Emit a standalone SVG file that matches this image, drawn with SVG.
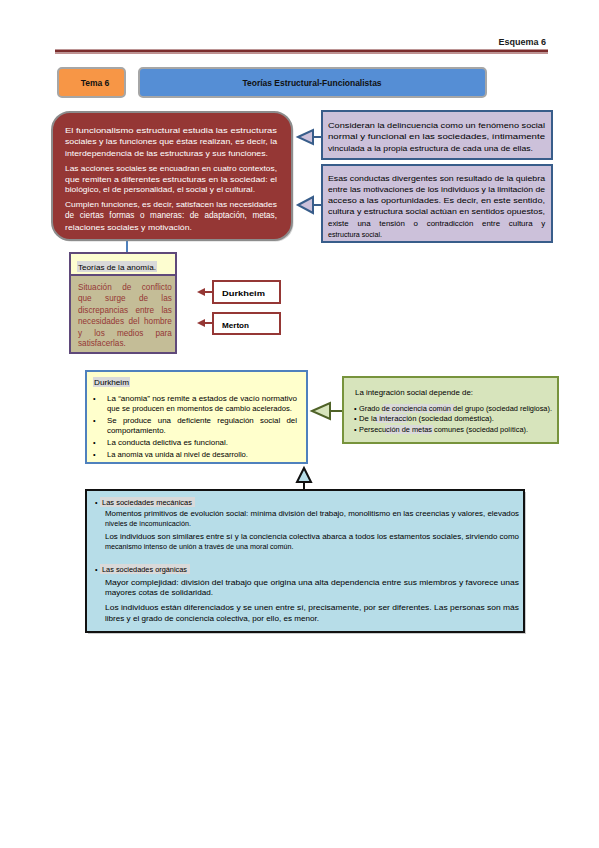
<svg xmlns="http://www.w3.org/2000/svg" width="599" height="848" viewBox="0 0 599 848">
<style>
text{font-family:"Liberation Sans",Arial,sans-serif;}
.w{fill:#ffffff;font-size:7.8px;}
.k{fill:#000000;font-size:7.4px;}
.s{fill:#000000;font-size:7.2px;}
.r{fill:#953735;font-size:8.2px;}
.b{font-weight:bold;}
.hl{fill:#d9d9d9;}
</style>
<rect x="0" y="0" width="599" height="848" fill="#ffffff"/>
<g id="header">
<text x="546" y="45" text-anchor="end" class="b" font-size="9" fill="#1a1a1a">Esquema 6</text>
<rect x="55" y="49.5" width="493" height="3" fill="#7b2c2c"/>
<line x1="55" y1="53.5" x2="548" y2="53.5" stroke="#c09090" stroke-width="1"/>
</g>
<g id="tema">
<rect x="58" y="68" width="67" height="29" rx="4" fill="#f79646" stroke="#a6a6a6" stroke-width="2"/>
<text x="95" y="85.5" text-anchor="middle" class="b" font-size="8.5" fill="#111">Tema 6</text>
</g>
<g id="titulo">
<rect x="139" y="68" width="347" height="29" rx="4" fill="#558ed5" stroke="#a6a6a6" stroke-width="2"/>
<text x="312" y="85.5" text-anchor="middle" class="b" font-size="8.5" fill="#111">Teorías Estructural-Funcionalistas</text>
</g>
<g id="connectors">
<line x1="127" y1="241" x2="127" y2="254" stroke="#4f81bd" stroke-width="2"/>
<line x1="313" y1="137" x2="322" y2="137" stroke="#385d8a" stroke-width="2"/>
<polygon points="298,137 313,130 313,144" fill="#ccc1da" stroke="#385d8a" stroke-width="2"/>
<line x1="313" y1="205" x2="322" y2="205" stroke="#385d8a" stroke-width="2"/>
<polygon points="298,205 313,197 313,213" fill="#ccc1da" stroke="#385d8a" stroke-width="2"/>
<line x1="203" y1="292" x2="213" y2="292" stroke="#953735" stroke-width="2"/>
<polygon points="197,292 205,288 205,296" fill="#953735"/>
<line x1="203" y1="323" x2="213" y2="323" stroke="#953735" stroke-width="2"/>
<polygon points="197,323 205,319 205,327" fill="#953735"/>
<line x1="330" y1="411" x2="343" y2="411" stroke="#4f6228" stroke-width="2"/>
<polygon points="312,411 330,403 330,419" fill="#d7e4bc" stroke="#4f6228" stroke-width="2"/>
<line x1="304" y1="482" x2="304" y2="491" stroke="#111" stroke-width="2"/>
<polygon points="304,468 297,482 311,482" fill="#b7dde8" stroke="#111" stroke-width="2"/>
</g>
<g id="funcionalismo">
<rect x="53.5" y="113.5" width="240" height="128" rx="18" fill="#7f7f7f" opacity="0.35"/>
<rect x="52" y="112" width="240" height="128" rx="18" fill="#953735" stroke="#8c8c8c" stroke-width="2"/>
<text class="w" x="65" y="132.5" textLength="212" lengthAdjust="spacingAndGlyphs">El funcionalismo estructural estudia las estructuras</text>
<text class="w" x="65" y="144" textLength="212" lengthAdjust="spacingAndGlyphs">sociales y las funciones que éstas realizan, es decir, la</text>
<text class="w" x="65" y="155.5" textLength="203" lengthAdjust="spacingAndGlyphs">interdependencia de las estructuras y sus funciones.</text>
<text class="w" x="65" y="170.5" textLength="212" lengthAdjust="spacingAndGlyphs">Las acciones sociales se encuadran en cuatro contextos,</text>
<text class="w" x="65" y="181.5" textLength="212" lengthAdjust="spacingAndGlyphs">que remiten a diferentes estructuras en la sociedad: el</text>
<text class="w" x="65" y="192" textLength="190" lengthAdjust="spacingAndGlyphs">biológico, el de personalidad, el social y el cultural.</text>
<text class="w" x="65" y="206.5" textLength="212" lengthAdjust="spacingAndGlyphs">Cumplen funciones, es decir, satisfacen las necesidades</text>
<text class="w" x="65" y="217.5" style="font-size:8.2px;word-spacing:3.3px">de ciertas formas o maneras: de adaptación, metas,</text>
<text class="w" x="65" y="229.5" textLength="127" lengthAdjust="spacingAndGlyphs">relaciones sociales y motivación.</text>
</g>
<g id="consideran">
<rect x="322" y="111" width="230" height="48" fill="#ccc1da" stroke="#385d8a" stroke-width="2"/>
<text class="k" x="328" y="127.5" textLength="217" lengthAdjust="spacingAndGlyphs">Consideran la delincuencia como un fenómeno social</text>
<text class="k" x="328" y="139" textLength="217" lengthAdjust="spacingAndGlyphs">normal y funcional en las sociedades, íntimamente</text>
<text class="k" x="328" y="150.5" textLength="205" lengthAdjust="spacingAndGlyphs">vinculada a la propia estructura de cada una de ellas.</text>
</g>
<g id="conductas">
<rect x="322" y="165" width="230" height="77" fill="#ccc1da" stroke="#385d8a" stroke-width="2"/>
<text class="k" x="328" y="180.5" textLength="217" lengthAdjust="spacingAndGlyphs">Esas conductas divergentes son resultado de la quiebra</text>
<text class="k" x="328" y="191.8" textLength="217" lengthAdjust="spacingAndGlyphs">entre las motivaciones de los individuos y la limitación de</text>
<text class="k" x="328" y="203.1" textLength="217" lengthAdjust="spacingAndGlyphs">acceso a las oportunidades. Es decir, en este sentido,</text>
<text class="k" x="328" y="214.4" textLength="217" lengthAdjust="spacingAndGlyphs">cultura y estructura social actúan en sentidos opuestos,</text>
<text class="k" x="328" y="225.7" style="font-size:7.9px;word-spacing:6.6px">existe una tensión o contradicción entre cultura y</text>
<text class="k" x="328" y="237" textLength="54" lengthAdjust="spacingAndGlyphs">estructura social.</text>
</g>
<g id="anomia">
<rect x="70" y="253" width="106" height="22" fill="#fdfdd0"/>
<rect x="70" y="275" width="106" height="78" fill="#c4bd97"/>
<rect x="70" y="253" width="106" height="100" fill="none" stroke="#5f497a" stroke-width="2"/>
<line x1="70" y1="275" x2="176" y2="275" stroke="#5f497a" stroke-width="2"/>
<rect x="77" y="261" width="80" height="11" class="hl"/>
<text class="k" x="78" y="269.5" textLength="78" lengthAdjust="spacingAndGlyphs">Teorías de la anomía.</text>
<text class="r" x="78" y="289.5" style="word-spacing:8.2px">Situación de conflicto</text>
<text class="r" x="78" y="301" style="word-spacing:11.1px">que surge de las</text>
<text class="r" x="78" y="312.5" style="word-spacing:5.1px">discrepancias entre las</text>
<text class="r" x="78" y="324" style="word-spacing:2.3px">necesidades del hombre</text>
<text class="r" x="78" y="335.5" style="word-spacing:9.9px">y los medios para</text>
<text class="r" x="78" y="346">satisfacerlas.</text>
</g>
<g id="durkheim-label">
<rect x="213" y="281" width="67" height="22" fill="#ffffff" stroke="#953735" stroke-width="2"/>
<text class="k b" x="222" y="295.5" textLength="43" lengthAdjust="spacingAndGlyphs">Durkheim</text>
</g>
<g id="merton-label">
<rect x="213" y="313" width="67" height="21" fill="#ffffff" stroke="#953735" stroke-width="2"/>
<text class="k b" x="222" y="327.5" textLength="27" lengthAdjust="spacingAndGlyphs">Merton</text>
</g>
<g id="durkheim">
<rect x="86" y="371" width="221" height="92" fill="#ffffcc" stroke="#4f81bd" stroke-width="2"/>
<rect x="93" y="377" width="37" height="10" class="hl"/>
<text class="k" x="94" y="384.5" textLength="35" lengthAdjust="spacingAndGlyphs">Durkheim</text>
<text class="k" x="93" y="400.5">•</text>
<text class="k" x="107" y="400.5" textLength="190" lengthAdjust="spacingAndGlyphs">La “anomia” nos remite a estados de vacío normativo</text>
<text class="k" x="107" y="410.5" textLength="185" lengthAdjust="spacingAndGlyphs">que se producen en momentos de cambio acelerados.</text>
<text class="k" x="93" y="422.5">•</text>
<text class="k" x="107" y="422.5" style="font-size:7.9px;word-spacing:4.1px">Se produce una deficiente regulación social del</text>
<text class="k" x="107" y="432.5" style="font-size:7.9px">comportamiento.</text>
<text class="k" x="93" y="444.5">•</text>
<text class="k" x="107" y="444.5" textLength="121" lengthAdjust="spacingAndGlyphs">La conducta delictiva es funcional.</text>
<text class="k" x="93" y="456.5">•</text>
<text class="k" x="107" y="456.5" textLength="141" lengthAdjust="spacingAndGlyphs">La anomia va unida al nivel de desarrollo.</text>
</g>
<g id="integracion">
<rect x="343" y="377" width="215" height="66" fill="#d7e4bc" stroke="#77933c" stroke-width="2"/>
<rect x="383" y="404" width="71" height="9" class="hl"/>
<rect x="376" y="414" width="31" height="9" class="hl"/>
<rect x="385" y="425" width="48" height="9" class="hl"/>
<text class="k" x="355" y="394.5" textLength="118" lengthAdjust="spacingAndGlyphs">La integración social depende de:</text>
<text class="k" x="354" y="410.5">•</text>
<text class="k" x="359" y="410.5" textLength="193" lengthAdjust="spacingAndGlyphs">Grado de conciencia común del grupo (sociedad religiosa).</text>
<text class="k" x="354" y="420.5">•</text>
<text class="k" x="359" y="420.5" textLength="135" lengthAdjust="spacingAndGlyphs">De la interacción (sociedad doméstica).</text>
<text class="k" x="354" y="431.5">•</text>
<text class="k" x="359" y="431.5" textLength="169" lengthAdjust="spacingAndGlyphs">Persecución de metas comunes (sociedad política).</text>
</g>
<g id="sociedades">
<rect x="88" y="492" width="438" height="142" fill="#7f7f7f" opacity="0.4"/>
<rect x="86" y="490" width="438" height="142" fill="#b7dde8" stroke="#111" stroke-width="2"/>
<rect x="100" y="497" width="95" height="10" class="hl"/>
<text class="s" x="95" y="504.5">•</text>
<text class="s" x="102" y="504.5" textLength="90" lengthAdjust="spacingAndGlyphs">Las sociedades mecánicas</text>
<text class="s" x="105" y="515.5" textLength="414" lengthAdjust="spacingAndGlyphs">Momentos primitivos de evolución social: mínima división del trabajo, monolitismo en las creencias y valores, elevados</text>
<text class="s" x="105" y="525.5">niveles de incomunicación.</text>
<text class="s" x="105" y="538.5" textLength="414" lengthAdjust="spacingAndGlyphs">Los individuos son similares entre sí y la conciencia colectiva abarca a todos los estamentos sociales, sirviendo como</text>
<text class="s" x="105" y="548.5">mecanismo intenso de unión a través de una moral común.</text>
<rect x="100" y="564" width="90" height="10" class="hl"/>
<text class="s" x="95" y="571.5">•</text>
<text class="s" x="102" y="571.5" textLength="85" lengthAdjust="spacingAndGlyphs">Las sociedades orgánicas</text>
<text class="s" x="105" y="584.5" textLength="414" lengthAdjust="spacingAndGlyphs">Mayor complejidad: división del trabajo que origina una alta dependencia entre sus miembros y favorece unas</text>
<text class="s" x="105" y="594.5" textLength="108" lengthAdjust="spacingAndGlyphs">mayores cotas de solidaridad.</text>
<text class="s" x="105" y="609.5" textLength="414" lengthAdjust="spacingAndGlyphs">Los individuos están diferenciados y se unen entre sí, precisamente, por ser diferentes. Las personas son más</text>
<text class="s" x="105" y="620.5" textLength="214" lengthAdjust="spacingAndGlyphs">libres y el grado de conciencia colectiva, por ello, es menor.</text>
</g>
</svg>
